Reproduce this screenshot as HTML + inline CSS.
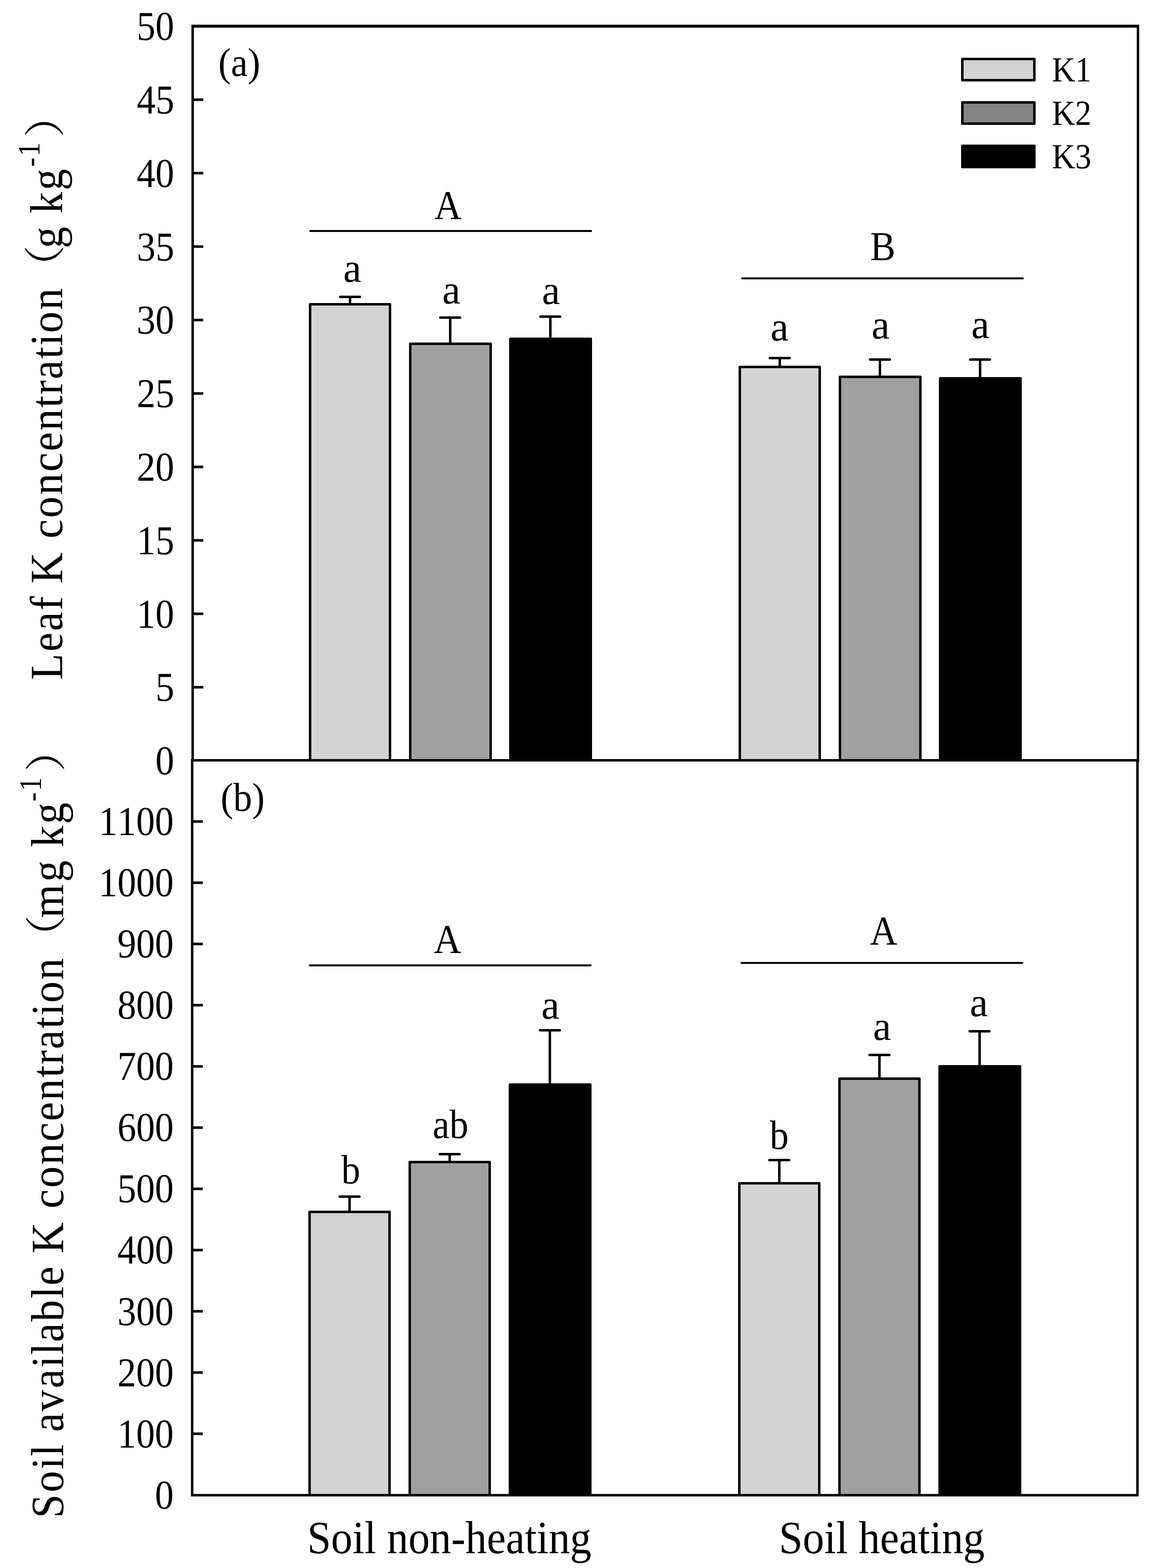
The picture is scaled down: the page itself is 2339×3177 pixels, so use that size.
<!DOCTYPE html>
<html lang="en">
<head>
<meta charset="utf-8">
<title>Leaf K and soil available K concentration</title>
<style>
html,body{margin:0;padding:0;background:#fff;}
body{width:2339px;height:3177px;overflow:hidden;}
svg{display:block;}
text{white-space:pre;font-kerning:none;}
</style>
</head>
<body>
<svg width="2339" height="3177" viewBox="0 0 2339 3177" text-rendering="geometricPrecision">
<rect x="0" y="0" width="2339" height="3177" fill="#fff"/>
<g fill="#000">
<rect x="388" y="50" width="1921" height="6"/>
<rect x="388" y="50" width="5" height="1493"/>
<rect x="2304" y="50" width="5" height="1494"/>
<rect x="387" y="1538" width="1922" height="5"/>
<rect x="387" y="1539" width="5" height="1493"/>
<rect x="2303" y="1539" width="5" height="1493"/>
<rect x="387" y="3027" width="1921" height="5"/>
</g>
<g stroke="#000" stroke-width="5.2" stroke-linecap="butt">
<line x1="392" y1="1392.49" x2="412" y2="1392.49"/>
<line x1="392" y1="1243.68" x2="412" y2="1243.68"/>
<line x1="392" y1="1094.87" x2="412" y2="1094.87"/>
<line x1="392" y1="946.06" x2="412" y2="946.06"/>
<line x1="392" y1="797.25" x2="412" y2="797.25"/>
<line x1="392" y1="648.44" x2="412" y2="648.44"/>
<line x1="392" y1="499.63" x2="412" y2="499.63"/>
<line x1="392" y1="350.82" x2="412" y2="350.82"/>
<line x1="392" y1="202.01" x2="412" y2="202.01"/>
<line x1="391" y1="2905" x2="411" y2="2905"/>
<line x1="391" y1="2780.95" x2="411" y2="2780.95"/>
<line x1="391" y1="2656.9" x2="411" y2="2656.9"/>
<line x1="391" y1="2532.85" x2="411" y2="2532.85"/>
<line x1="391" y1="2408.8" x2="411" y2="2408.8"/>
<line x1="391" y1="2284.75" x2="411" y2="2284.75"/>
<line x1="391" y1="2160.7" x2="411" y2="2160.7"/>
<line x1="391" y1="2036.65" x2="411" y2="2036.65"/>
<line x1="391" y1="1912.6" x2="411" y2="1912.6"/>
<line x1="391" y1="1788.55" x2="411" y2="1788.55"/>
<line x1="391" y1="1664.5" x2="411" y2="1664.5"/>
</g>
<g stroke="#000" stroke-width="5" stroke-linejoin="round">
<rect x="628.5" y="616.5" width="162" height="924" fill="#d3d3d3"/>
<rect x="831.5" y="696.5" width="163" height="844" fill="#a0a0a0"/>
<rect x="1034.5" y="686.5" width="163" height="854" fill="#000000"/>
<rect x="1499.5" y="743.5" width="162" height="797" fill="#d3d3d3"/>
<rect x="1702.5" y="763.5" width="163" height="777" fill="#a0a0a0"/>
<rect x="1905.5" y="766.5" width="163" height="774" fill="#000000"/>
</g>
<g stroke="#000" stroke-width="5" stroke-linecap="round" fill="none">
<path d="M689.5 601.5H729.5M709.5 601.5V616"/>
<path d="M892.5 643.5H932.5M912.5 643.5V696"/>
<path d="M1095.5 641.5H1135.5M1115.5 641.5V686"/>
<path d="M1560.5 725.5H1600.5M1580.5 725.5V743"/>
<path d="M1763.5 728.5H1803.5M1783.5 728.5V763"/>
<path d="M1966.5 728.5H2006.5M1986.5 728.5V766"/>
</g>
<g stroke="#000" stroke-width="5" stroke-linejoin="round">
<rect x="627.5" y="2455.5" width="162" height="574" fill="#d3d3d3"/>
<rect x="830.5" y="2354.5" width="162" height="675" fill="#a0a0a0"/>
<rect x="1033.5" y="2197.5" width="163" height="832" fill="#000000"/>
<rect x="1498.5" y="2397.5" width="162" height="632" fill="#d3d3d3"/>
<rect x="1701.5" y="2185.5" width="162" height="844" fill="#a0a0a0"/>
<rect x="1904.5" y="2160.5" width="163" height="869" fill="#000000"/>
</g>
<g stroke="#000" stroke-width="5" stroke-linecap="round" fill="none">
<path d="M688.5 2424.5H728.5M708.5 2424.5V2455"/>
<path d="M891.5 2338.5H931.5M911.5 2338.5V2354"/>
<path d="M1094.5 2087.5H1134.5M1114.5 2087.5V2197"/>
<path d="M1559.5 2350.5H1599.5M1579.5 2350.5V2397"/>
<path d="M1762.5 2137.5H1802.5M1782.5 2137.5V2185"/>
<path d="M1965.5 2089.5H2005.5M1985.5 2089.5V2160"/>
</g>
<g stroke="#000" stroke-width="4" stroke-linecap="round">
<line x1="629" y1="468" x2="1198" y2="468"/>
<line x1="1504" y1="564" x2="2073" y2="564"/>
<line x1="628" y1="1956" x2="1197" y2="1956"/>
<line x1="1503" y1="1951" x2="2072" y2="1951"/>
</g>
<g stroke="#000" stroke-width="5" stroke-linejoin="round">
<rect x="1950.5" y="119.5" width="146" height="43" fill="#d3d3d3"/>
<rect x="1950.5" y="207.5" width="146" height="43" fill="#848484"/>
<rect x="1950.5" y="295.5" width="146" height="43" fill="#000000"/>
</g>
<g font-family="'Liberation Serif', 'Noto Serif CJK SC', serif" fill="#000">
<text transform="translate(2132.11 164.9) scale(0.9140 1)" font-size="71.6">K1</text>
<text transform="translate(2132.11 252.9) scale(0.9140 1)" font-size="71.6">K2</text>
<text transform="translate(2132.11 340.9) scale(0.9140 1)" font-size="71.6">K3</text>
<text transform="translate(315.1 1569.3) scale(0.9120 1)" font-size="83.33">0</text>
<text transform="translate(315.17 1420.49) scale(0.9120 1)" font-size="83.33">5</text>
<text transform="translate(277.1 1271.68) scale(0.9120 1)" font-size="83.33">10</text>
<text transform="translate(277.17 1122.87) scale(0.9120 1)" font-size="83.33">15</text>
<text transform="translate(277.1 974.06) scale(0.9120 1)" font-size="83.33">20</text>
<text transform="translate(277.17 825.25) scale(0.9120 1)" font-size="83.33">25</text>
<text transform="translate(277.1 676.44) scale(0.9120 1)" font-size="83.33">30</text>
<text transform="translate(277.17 527.63) scale(0.9120 1)" font-size="83.33">35</text>
<text transform="translate(277.1 378.82) scale(0.9120 1)" font-size="83.33">40</text>
<text transform="translate(277.17 230.01) scale(0.9120 1)" font-size="83.33">45</text>
<text transform="translate(277.1 81.2) scale(0.9120 1)" font-size="83.33">50</text>
<text transform="translate(314.1 3056.65) scale(0.9120 1)" font-size="83.33">0</text>
<text transform="translate(238.1 2932.6) scale(0.9120 1)" font-size="83.33">100</text>
<text transform="translate(238.1 2808.55) scale(0.9120 1)" font-size="83.33">200</text>
<text transform="translate(238.1 2684.5) scale(0.9120 1)" font-size="83.33">300</text>
<text transform="translate(238.1 2560.45) scale(0.9120 1)" font-size="83.33">400</text>
<text transform="translate(238.1 2436.4) scale(0.9120 1)" font-size="83.33">500</text>
<text transform="translate(238.1 2312.35) scale(0.9120 1)" font-size="83.33">600</text>
<text transform="translate(238.1 2188.3) scale(0.9120 1)" font-size="83.33">700</text>
<text transform="translate(238.1 2064.25) scale(0.9120 1)" font-size="83.33">800</text>
<text transform="translate(238.1 1940.2) scale(0.9120 1)" font-size="83.33">900</text>
<text transform="translate(200.1 1816.15) scale(0.9120 1)" font-size="83.33">1000</text>
<text transform="translate(200.1 1692.1) scale(0.9120 1)" font-size="83.33">1100</text>
<text transform="translate(442.42 153.7) scale(0.9390 1)" font-size="81.8">(a)</text>
<text transform="translate(447.34 1642.7) scale(0.9340 1)" font-size="81.8">(b)</text>
<text transform="translate(880.15 444.1) scale(0.9230 1)" font-size="83.33">A</text>
<text transform="translate(1763.69 527.1) scale(0.9210 1)" font-size="83.33">B</text>
<text transform="translate(879.25 1931.1) scale(0.9230 1)" font-size="83.33">A</text>
<text transform="translate(1763.15 1914) scale(0.9230 1)" font-size="83.33">A</text>
<text transform="translate(695.8 571.49) scale(0.9900 1)" font-size="83.33">a</text>
<text transform="translate(896.4 615.39) scale(0.9900 1)" font-size="83.33">a</text>
<text transform="translate(1098.4 615.59) scale(0.9900 1)" font-size="83.33">a</text>
<text transform="translate(1561.8 689.79) scale(0.9900 1)" font-size="83.33">a</text>
<text transform="translate(1766.4 685.69) scale(0.9900 1)" font-size="83.33">a</text>
<text transform="translate(1968.7 685.39) scale(0.9900 1)" font-size="83.33">a</text>
<text transform="translate(691.8 2398.39) scale(0.9250 1)" font-size="83.33">b</text>
<text transform="translate(877 2306.29) scale(0.9200 1)" font-size="83.33">ab</text>
<text transform="translate(1097.3 2063.59) scale(0.9900 1)" font-size="83.33">a</text>
<text transform="translate(1559.9 2328.19) scale(0.9250 1)" font-size="83.33">b</text>
<text transform="translate(1769.6 2106.69) scale(0.9900 1)" font-size="83.33">a</text>
<text transform="translate(1965.8 2058.79) scale(0.9900 1)" font-size="83.33">a</text>
<text transform="translate(622.8 3147.2) scale(0.9254 1)" font-size="93.75">Soil non-heating</text>
<text transform="translate(1578.8 3147.2) scale(0.9254 1)" font-size="93.75">Soil heating</text>
<g>
<text transform="translate(125.9 1377.4) rotate(-90) scale(0.9300 1)" font-size="93.75" x="0 61.58 106.32 151.06 184.63 209.83 282.63 307.83 352.58 402.98 453.38 498.13 542.87 593.27 621.28 654.85 699.59 727.6 755.61 806.01">Leaf K concentration</text>
<text transform="translate(121 586.7) rotate(-90) scale(1.078 1)" font-size="83.33" font-family="'Noto Serif CJK SC', 'Liberation Serif', serif">（</text>
<text transform="translate(125.9 502.9) rotate(-90) scale(0.9300 1)" font-size="93.75" x="0 50.4 75.6 126.01">g kg</text>
<text transform="translate(79.9 338) rotate(-90) scale(0.8800 1)" font-size="63.6" x="0 24.07" y="1.8 0">-1</text>
<text transform="translate(121 278.5) rotate(-90) scale(1.078 1)" font-size="83.33" font-family="'Noto Serif CJK SC', 'Liberation Serif', serif">）</text>
</g>
<g>
<text transform="translate(127.9 3075.9) rotate(-90) scale(0.9300 1)" font-size="93.75" x="0 56.06 106.47 134.47 162.48 187.68 232.43 282.83 327.57 355.58 383.59 428.33 478.73 506.74 551.48 576.68 649.48 674.68 719.43 769.83 820.23 864.98 909.72 960.12 988.13 1021.7 1066.44 1094.45 1122.46 1172.86">Soil available K concentration</text>
<text transform="translate(123 1944) rotate(-90) scale(1.078 1)" font-size="83.33" font-family="'Noto Serif CJK SC', 'Liberation Serif', serif">（</text>
<text transform="translate(127.9 1859.8) rotate(-90) scale(0.9300 1)" font-size="93.75" x="0 78.41 128.81 154.02 204.42">mg kg</text>
<text transform="translate(82.8 1624) rotate(-90) scale(0.8800 1)" font-size="63.6" x="0 24.07" y="1.8 0">-1</text>
<text transform="translate(123 1563.7) rotate(-90) scale(1.078 1)" font-size="83.33" font-family="'Noto Serif CJK SC', 'Liberation Serif', serif">）</text>
</g>
</g>
</svg>
</body>
</html>
